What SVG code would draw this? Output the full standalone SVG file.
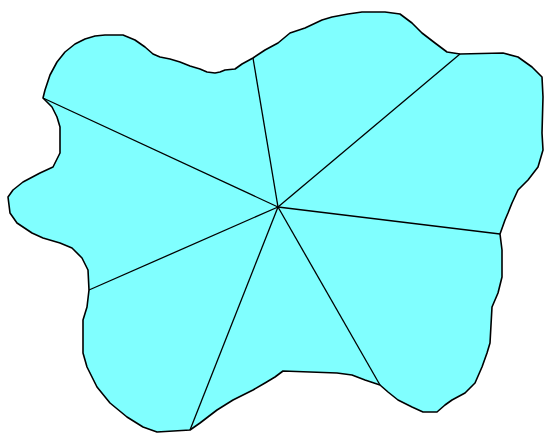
<svg xmlns="http://www.w3.org/2000/svg" width="545" height="434" viewBox="0 0 545 434">
<style>
.blob{fill:#80FFFF;stroke:#000;stroke-width:1.6;stroke-linejoin:round}
.ray{stroke:#000;stroke-width:1.3;fill:none}
</style>
<rect width="545" height="434" fill="#fff"/>
<g id="region">
<path class="blob" d="M43,98 L45,90 50,75 57,62 65,52 75,44 85,39 95,36 105,35 123,35 135,40 145,47 153,54 160,57 170,59 180,62 190,66 200,69 207,72 215,73 220,72 225,70 235,69 242,64 253,58 265,50 278,43 290,33 305,28 322,20 332,17 348,14 362,12 385,12 400,14 412,23 422,33 435,43 447,52 460,54 503,53 518,57 532,67 542,77 543,97 542,133 543,150 538,167 528,180 518,190 512,203 508,213 505,220 500,234 502,250 502,277 498,293 492,307 490,343 487,353 482,367 475,383 465,393 452,400 445,405 437,412 423,412 412,407 398,400 388,392 380,385 365,380 352,375 337,373 283,371 275,377 265,383 253,390 233,400 217,410 200,423 190,430 157,432 143,427 127,417 110,403 97,387 87,367 83,353 83,320 87,307 89,290 88,270 82,258 72,248 60,243 43,238 32,233 17,223 10,213 8,197 13,190 23,182 40,173 53,167 60,153 60,127 57,117 52,107 Z"/>
</g>
<g id="connectors">
<line class="ray" x1="278" y1="207" x2="43" y2="98"/>
<line class="ray" x1="278" y1="207" x2="253" y2="58"/>
<line class="ray" x1="278" y1="207" x2="460" y2="54"/>
<line class="ray" x1="278" y1="207" x2="500" y2="234"/>
<line class="ray" x1="278" y1="207" x2="380" y2="385"/>
<line class="ray" x1="278" y1="207" x2="190" y2="430"/>
<line class="ray" x1="278" y1="207" x2="89" y2="290"/>
</g>
</svg>
